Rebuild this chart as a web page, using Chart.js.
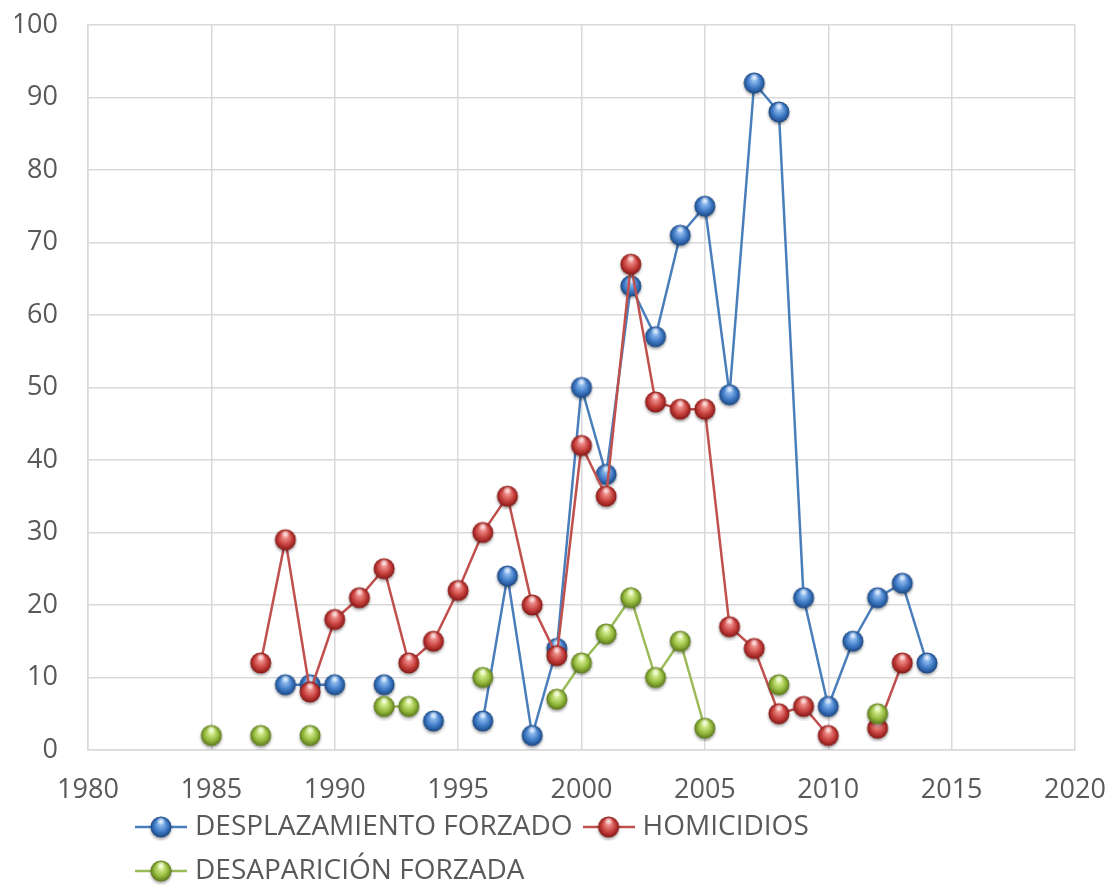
<!DOCTYPE html>
<html>
<head>
<meta charset="utf-8">
<script src="https://cdn.jsdelivr.net/npm/chart.js@4"></script>
<style>
  body { margin: 0; background: #fff; }
  #wrap { width: 1112px; height: 894px; }
</style>
</head>
<body>
<div id="wrap"><canvas id="chart"></canvas></div>
<script>
// data, null = no value that year
const years = [1985, 1986, 1987, 1988, 1989, 1990, 1991, 1992, 1993, 1994,
               1995, 1996, 1997, 1998, 1999, 2000, 2001, 2002, 2003, 2004,
               2005, 2006, 2007, 2008, 2009, 2010, 2011, 2012, 2013, 2014];

const desplazamiento = [null, null, null, 9, 9, 9, null, 9, null, 4,
                        null, 4, 24, 2, 14, 50, 38, 64, 57, 71,
                        75, 49, 92, 88, 21, 6, 15, 21, 23, 12];

const homicidios = [null, null, 12, 29, 8, 18, 21, 25, 12, 15,
                    22, 30, 35, 20, 13, 42, 35, 67, 48, 47,
                    47, 17, 14, 5, 6, 2, null, 3, 12, null];

const desaparicion = [2, null, 2, null, 2, null, null, 6, 6, null,
                      null, 10, null, null, 7, 12, 16, 21, 10, 15,
                      3, null, null, 9, null, null, null, 5, null, null];

const seriesNames = ['DESPLAZAMIENTO FORZADO', 'HOMICIDIOS', 'DESAPARICIÓN FORZADA'];
const xTicks = [1980, 2020, 5];
const yTicks = [0, 100, 10];

const colors = [
    { base: '#4a7ebb', ball: '#3f7ac6', light: '#9ec8f6', dark: '#1b4781' },
    { base: '#c0504d', ball: '#c8413e', light: '#f5a09d', dark: '#841816' },
    { base: '#9bbb59', ball: '#97bd3f', light: '#e3f7a6', dark: '#5a771c' }
];

// glossy ball marker, optionally with a line through it (for the legend)
function makeBall(c, w, withLine) {
    const cv = document.createElement('canvas');
    cv.width = w;
    cv.height = 28;
    const g = cv.getContext('2d');
    const cx = w / 2, cy = 14, r = 10.5;
    if (withLine) {
        g.strokeStyle = c.base;
        g.lineWidth = 2.5;
        g.beginPath();
        g.moveTo(0, cy);
        g.lineTo(w, cy);
        g.stroke();
    }
    g.save();
    g.shadowColor = 'rgba(0,0,0,0.35)';
    g.shadowBlur = 3;
    g.shadowOffsetY = 2;
    const grad = g.createRadialGradient(cx, cy - 4, 1, cx, cy, r);
    grad.addColorStop(0, c.light);
    grad.addColorStop(0.6, c.ball);
    grad.addColorStop(1, c.dark);
    g.fillStyle = grad;
    g.beginPath();
    g.arc(cx, cy, r, 0, Math.PI * 2);
    g.fill();
    g.restore();
    const hl = g.createRadialGradient(cx, cy - 6, 0, cx, cy - 6, 4.5);
    hl.addColorStop(0, 'rgba(255,255,255,0.85)');
    hl.addColorStop(1, 'rgba(255,255,255,0)');
    g.fillStyle = hl;
    g.beginPath();
    g.ellipse(cx, cy - 6, 5, 3.5, 0, 0, Math.PI * 2);
    g.fill();
    return cv;
}

const pointImgs = colors.map(c => makeBall(c, 28, false));
const legendImgs = colors.map(c => makeBall(c, 52, true));

function toPoints(vals) {
    return years.map((y, i) => ({ x: y, y: vals[i] }));
}

// put the legend block where the reference has it
const legendPlace = {
    id: 'legendPlace',
    afterLayout(chart) {
        const lg = chart.legend;
        lg.left = 125;
        lg.top = 797;
        lg.bottom = chart.height;
        lg.height = lg.bottom - lg.top;
    }
};

const tickFont = { family: 'Open Sans', size: 27 };

const ctx = document.getElementById('chart').getContext('2d');
new Chart(ctx, {
    type: 'line',
    data: {
        datasets: [desplazamiento, homicidios, desaparicion].map((vals, i) => ({
            label: seriesNames[i],
            data: toPoints(vals),
            borderColor: colors[i].base,
            backgroundColor: colors[i].base,
            borderWidth: 2.5,
            pointStyle: pointImgs[i],
            pointRadius: 10,
            spanGaps: false,
            tension: 0,
            order: 3 - i
        }))
    },
    options: {
        responsive: true,
        maintainAspectRatio: false,
        animation: false,
        layout: { padding: { top: 25, left: 15, right: 37, bottom: 26 } },
        scales: {
            x: {
                type: 'linear',
                min: xTicks[0],
                max: xTicks[1],
                ticks: { stepSize: xTicks[2], color: '#595959', font: tickFont, padding: 24,
                         maxRotation: 0, callback: v => String(v) },
                grid: { color: '#d9d9d9', lineWidth: 1.5, drawTicks: false },
                border: { color: '#d9d9d9', width: 1.5 },
                afterFit(scale) {
                    scale.height = 58;
                    scale.paddingLeft = 0;
                    scale.paddingRight = 0;
                }
            },
            y: {
                min: yTicks[0],
                max: yTicks[1],
                ticks: { stepSize: yTicks[2], color: '#595959', font: tickFont, padding: 30 },
                grid: { color: '#d9d9d9', lineWidth: 1.5, drawTicks: false },
                border: { color: '#d9d9d9', width: 1.5 },
                afterFit(scale) {
                    scale.width = 73;
                    scale.paddingTop = 0;
                    scale.paddingBottom = 0;
                }
            }
        },
        plugins: {
            legend: {
                position: 'bottom',
                align: 'start',
                maxHeight: 60,
                labels: {
                    usePointStyle: true,
                    pointStyleWidth: 40,
                    padding: 16,
                    color: '#595959',
                    font: { family: 'Open Sans', size: 28 },
                    generateLabels(chart) {
                        const items = Chart.defaults.plugins.legend.labels.generateLabels(chart);
                        items.forEach(it => { it.pointStyle = legendImgs[it.datasetIndex]; });
                        return items;
                    },
                    sort: (a, b) => a.datasetIndex - b.datasetIndex
                }
            },
            tooltip: { enabled: false }
        }
    },
    plugins: [legendPlace]
});
</script>
</body>
</html>
